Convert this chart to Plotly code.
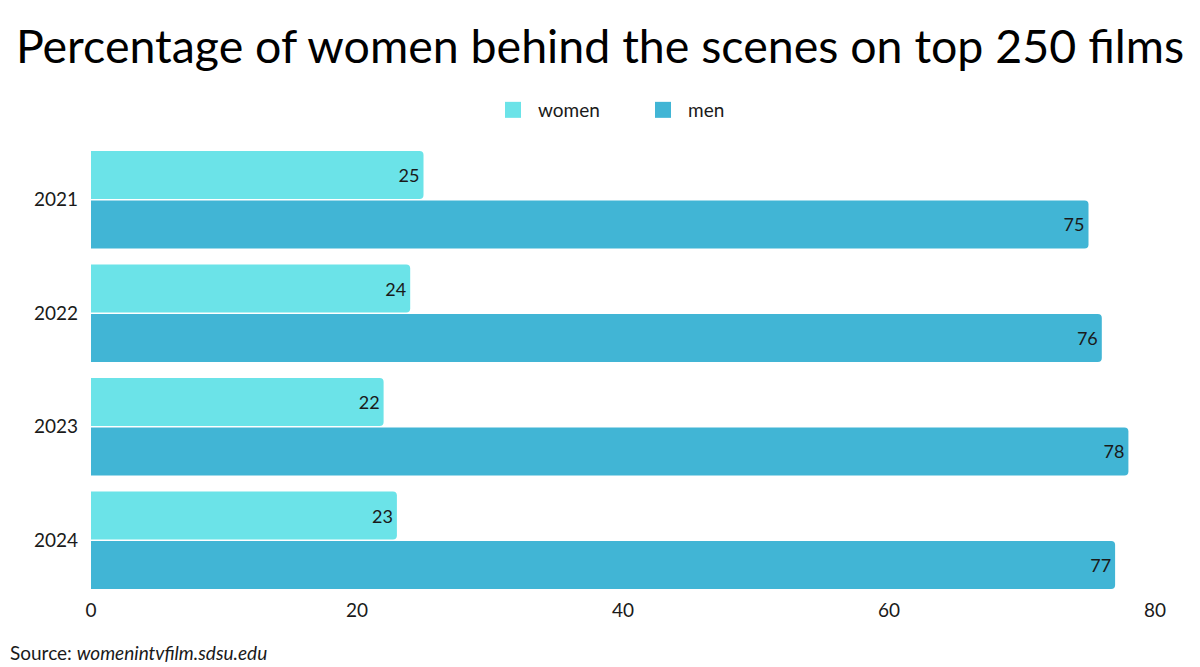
import plotly.graph_objects as go

years = ["2021", "2022", "2023", "2024"]
women = [25, 24, 22, 23]
men = [75, 76, 78, 77]
x_ticks = [0, 20, 40, 60, 80]

FONT = "Lato"
TXT = "#1a1a1a"
C_WOMEN = "#6BE3E8"
C_MEN = "#41B5D5"

fig = go.Figure()
fig.add_trace(go.Bar(
    y=years, x=women, name="women", orientation="h", showlegend=False,
    legendgroup="women",
    marker=dict(color=C_WOMEN, line=dict(width=0)),
    text=women, textposition="inside", insidetextanchor="end",
    textfont=dict(family=FONT, size=18, color=TXT),
))
fig.add_trace(go.Bar(
    y=years, x=men, name="men", orientation="h", showlegend=False,
    legendgroup="men",
    marker=dict(color=C_MEN, line=dict(width=0)),
    text=men, textposition="inside", insidetextanchor="end",
    textfont=dict(family=FONT, size=18, color=TXT),
))
# legend entries with square swatches
for nm, col in (("women", C_WOMEN), ("men", C_MEN)):
    fig.add_trace(go.Scatter(
        x=[None], y=[None], mode="markers", name=nm, legendgroup=nm,
        marker=dict(symbol="square", size=22, color=col),
        showlegend=True, hoverinfo="skip",
    ))

fig.update_layout(
    width=1200, height=667,
    paper_bgcolor="white", plot_bgcolor="white",
    margin=dict(l=91, r=45, t=143, b=70),
    barmode="group", bargap=0.13, bargroupgap=0.03, barcornerradius=4,
    font=dict(family=FONT, size=18, color=TXT),
    title=dict(
        text="Percentage of women behind the scenes on top 250 films",
        x=0.5, xanchor="center", y=0.93, yanchor="middle",
        font=dict(family=FONT, size=46.5, color="#000000"),
    ),
    legend=dict(
        orientation="h", x=(488 - 91) / 1064, xanchor="left",
        y=1.0727, yanchor="middle",
        font=dict(family=FONT, size=19, color=TXT),
        itemwidth=40, entrywidth=95, traceorder="normal",
    ),
    xaxis=dict(
        range=[0, 80], tickvals=x_ticks, showgrid=False, zeroline=False,
        showline=False, tickfont=dict(family=FONT, size=19, color=TXT),
    ),
    yaxis=dict(
        autorange="reversed", showgrid=False, zeroline=False, showline=False,
        ticklabelstandoff=12, tickfont=dict(family=FONT, size=19, color=TXT),
    ),
    annotations=[dict(
        text="Source: <i>womenintvfilm.sdsu.edu</i>",
        xref="paper", yref="paper", x=(8 - 91) / 1064, y=-0.122,
        xanchor="left", yanchor="middle", showarrow=False,
        font=dict(family=FONT, size=19, color=TXT),
    )],
)

fig.write_html("out.html")
